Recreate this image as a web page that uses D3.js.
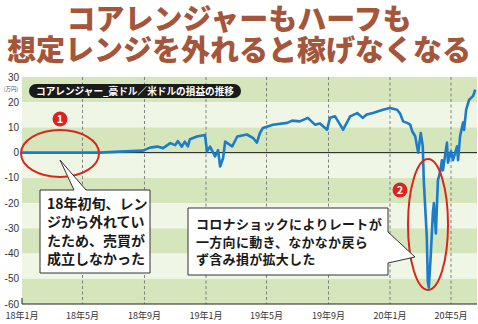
<!DOCTYPE html>
<html>
<head>
<meta charset="utf-8">
<script src="https://cdn.jsdelivr.net/npm/d3@7"></script>
<style>
  body { margin: 0; background: #fff; }
  svg { display: block; font-family: "Noto Sans CJK JP", "Noto Sans", sans-serif; }
</style>
</head>
<body>
<script>
// values (万円)
var dates = ["2018-01-01","2018-06-04","2018-07-14","2018-08-29","2018-09-12","2018-09-26","2018-10-08",
  "2018-10-22","2018-11-01","2018-11-06","2018-11-14","2018-11-20","2018-11-26","2018-11-30","2018-12-14",
  "2018-12-30","2019-01-03","2019-01-09","2019-01-19","2019-01-25","2019-01-29","2019-02-04","2019-02-08",
  "2019-02-22","2019-03-04","2019-03-23","2019-04-04","2019-04-12","2019-04-18","2019-04-24","2019-05-14",
  "2019-06-11","2019-06-21","2019-07-06","2019-07-22","2019-08-05","2019-08-15","2019-08-29","2019-09-04",
  "2019-09-14","2019-09-24","2019-09-30","2019-10-14","2019-10-28","2019-11-08","2019-11-16","2019-11-28",
  "2019-12-18","2020-01-01","2020-01-15","2020-01-21","2020-01-27","2020-02-04","2020-02-10","2020-02-14",
  "2020-02-20","2020-02-24","2020-02-26","2020-03-02","2020-03-06","2020-03-08","2020-03-14","2020-03-16",
  "2020-03-18","2020-03-22","2020-03-26","2020-03-28","2020-04-01","2020-04-03","2020-04-05","2020-04-09",
  "2020-04-13","2020-04-15","2020-04-23","2020-04-25","2020-05-01","2020-05-05","2020-05-13","2020-05-15",
  "2020-05-19","2020-05-25","2020-05-27","2020-05-31","2020-06-06","2020-06-14","2020-06-18"];
var pnl = [0,0,0.4,0.8,2.0,2.4,1.8,
  3.8,3.0,4.6,2.4,4.4,2.5,5.3,6.4,
  7.0,0.5,2.4,-1.5,1.0,-5.5,-2,4.4,
  2.5,6.4,7.2,5.9,4.0,7.8,9.8,11.1,
  11.8,12.7,12.4,13.8,11.1,11.6,9.1,13.8,
  14.4,11.1,9.1,14.4,15.7,13.8,15.1,15.7,
  17.0,17.7,17.0,15.5,12.4,11.8,11.1,8.5,
  6.5,2.0,0,7.8,2.6,-11,-33.5,-51,
  -53.5,-40,-24,-20,-32,-21.5,-11,-8,
  -3,-7,4,-4,0.5,-3,2.5,-3,
  6.5,12,9,17,21,22.5,25];

var yTicks = [30,20,10,0,-10,-20,-30,-40,-50,-60];
var xTickDates = ["2018-01-01","2018-05-01","2018-09-01","2019-01-01","2019-05-01","2019-09-01","2020-01-01","2020-05-01"];
var xTickLabels = ["18年1月","18年5月","18年9月","19年1月","19年5月","19年9月","20年1月","20年5月"];

var titleLines = ["コアレンジャーもハーフも","想定レンジを外れると稼げなくなる"];
var note1 = ["18年初旬、レン","ジから外れてい","たため、売買が","成立しなかった"];
var note2 = ["コロナショックによりレートが","一方向に動き、なかなか戻ら","ず含み損が拡大した"];

var width = 478, height = 324;
var parse = d3.timeParse("%Y-%m-%d");

var svg = d3.select("body").append("svg")
  .attr("width", width)
  .attr("height", height);

var x = d3.scaleTime()
  .domain([parse("2018-01-01"), parse("2020-05-01")])
  .range([22, 451]);
var y = d3.scaleLinear().domain([-60, 30]).range([304, 77]);
var x0 = 22, x1 = 477;

// bands
var bands = d3.range(30, -60, -10);
svg.selectAll("rect.band").data(bands).enter().append("rect")
  .attr("x", x0)
  .attr("y", function(d){ return y(d); })
  .attr("width", x1 - x0)
  .attr("height", function(d){ return y(d - 10) - y(d); })
  .attr("fill", function(d, i){ return i % 2 == 0 ? "#d6e6bc" : "#eff6e6"; });

// dashed month lines
svg.selectAll("line.vgrid").data(xTickDates.slice(1)).enter().append("line")
  .attr("x1", function(d){ return x(parse(d)); })
  .attr("x2", function(d){ return x(parse(d)); })
  .attr("y1", y(30)).attr("y2", y(-60))
  .attr("stroke", "#666").attr("stroke-width", 0.8)
  .attr("stroke-dasharray", "3,2.5");

// zero line and bottom axis
svg.append("line").attr("x1", x0).attr("x2", x1).attr("y1", y(0)).attr("y2", y(0))
  .attr("stroke", "#111").attr("stroke-width", 1);
svg.append("line").attr("x1", x0).attr("x2", x1).attr("y1", y(-60)).attr("y2", y(-60))
  .attr("stroke", "#222").attr("stroke-width", 1.2);
svg.append("line").attr("x1", x0).attr("x2", x0).attr("y1", y(-60) - 6).attr("y2", y(-60))
  .attr("stroke", "#222").attr("stroke-width", 1);

// y labels
svg.selectAll("text.ylab").data(yTicks).enter().append("text")
  .attr("x", 19)
  .attr("y", function(d){ return y(d) + 3.5; })
  .attr("text-anchor", "end")
  .attr("font-family", "'Liberation Sans Narrow', 'Liberation Sans', sans-serif")
  .attr("font-size", 10)
  .attr("fill", "#333")
  .text(function(d){ return d; });
svg.append("text").attr("x", 11).attr("y", 91)
  .attr("text-anchor", "middle")
  .attr("font-size", 5.5).attr("fill", "#555")
  .text("(万円)");

// x labels
svg.selectAll("text.xlab").data(xTickDates).enter().append("text")
  .attr("x", function(d){ return x(parse(d)); })
  .attr("y", 319)
  .attr("text-anchor", "middle")
  .attr("font-size", 9)
  .attr("fill", "#333")
  .text(function(d, i){ return xTickLabels[i]; });

// series
var data = dates.map(function(d, i){ return { date: parse(d), v: pnl[i] }; });
var line = d3.line()
  .x(function(d){ return x(d.date); })
  .y(function(d){ return y(d.v); });
svg.append("path").datum(data)
  .attr("d", line)
  .attr("fill", "none")
  .attr("stroke", "#1c7cc7")
  .attr("stroke-width", 2.6)
  .attr("stroke-linejoin", "round");

// label pill
svg.append("rect").attr("x", 29).attr("y", 84).attr("width", 212).attr("height", 14)
  .attr("rx", 7).attr("fill", "#1a1a1a");
svg.append("text").attr("x", 135).attr("y", 95)
  .attr("text-anchor", "middle")
  .attr("font-size", 10).attr("font-weight", "bold").attr("fill", "#fff")
  .attr("textLength", 198).attr("lengthAdjust", "spacingAndGlyphs")
  .text("コアレンジャー_豪ドル／米ドルの損益の推移");

// red ellipses
svg.append("ellipse").attr("cx", 60).attr("cy", 153.5).attr("rx", 39).attr("ry", 23.5)
  .attr("fill", "none").attr("stroke", "#d9261c").attr("stroke-width", 2);
svg.append("ellipse").attr("cx", 428).attr("cy", 224.5).attr("rx", 20).attr("ry", 65.5)
  .attr("fill", "none").attr("stroke", "#d9261c").attr("stroke-width", 2);

// number badges
var badges = [[60, 119, "1"], [400, 190, "2"]];
var bg = svg.selectAll("g.badge").data(badges).enter().append("g")
  .attr("transform", function(d){ return "translate(" + d[0] + "," + d[1] + ")"; });
bg.append("circle").attr("r", 7.5).attr("fill", "#dd2222");
bg.append("text").attr("y", 4).attr("text-anchor", "middle")
  .attr("font-size", 11).attr("font-weight", "bold").attr("fill", "#fff")
  .text(function(d){ return d[2]; });

// callouts
svg.append("path")
  .attr("d", "M40,190 L74,190 L60,160 L86,190 L150,190 L150,273 L40,273 Z")
  .attr("fill", "#fff").attr("stroke", "#333").attr("stroke-width", 1);
svg.append("g").selectAll("text").data(note1).enter().append("text")
  .attr("x", 47)
  .attr("y", function(d, i){ return 209 + i * 18.3; })
  .attr("font-size", 14).attr("font-weight", "bold").attr("fill", "#1a1a1a")
  .text(function(d){ return d; });

svg.append("path")
  .attr("d", "M188,208 L388,208 L388,232 L415,257 L388,263 L388,275 L188,275 Z")
  .attr("fill", "#fff").attr("stroke", "#333").attr("stroke-width", 1);
svg.append("g").selectAll("text").data(note2).enter().append("text")
  .attr("x", 196)
  .attr("y", function(d, i){ return 229 + i * 17.5; })
  .attr("font-size", 13).attr("font-weight", "600").attr("fill", "#1a1a1a")
  .attr("letter-spacing", 0.3)
  .text(function(d){ return d; });

// title
svg.selectAll("text.title").data(titleLines).enter().append("text")
  .attr("x", 239)
  .attr("y", function(d, i){ return 30 + i * 30.5; })
  .attr("text-anchor", "middle")
  .attr("font-size", 29).attr("font-weight", 900)
  .attr("fill", "#a5563a")
  .attr("stroke", "#fff").attr("stroke-width", 1).attr("paint-order", "stroke")
  .text(function(d){ return d; });
</script>
</body>
</html>
